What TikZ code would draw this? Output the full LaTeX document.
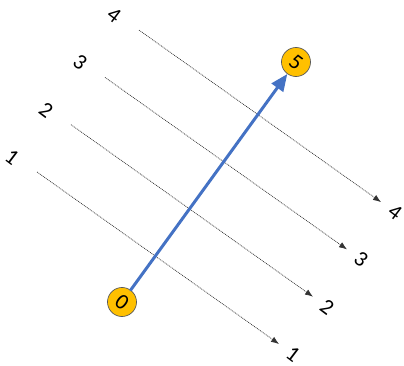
\documentclass[tikz,border=0pt]{standalone}
\usepackage{fontspec}
\setmainfont{Carlito}
\usetikzlibrary{arrows.meta}
\definecolor{gold}{HTML}{FFC000}
\definecolor{steel}{HTML}{4472C4}
\begin{document}
\begin{tikzpicture}[x=1pt, y=-1pt, line join=round, line cap=round, font=\fontsize{22}{22}\selectfont,
	ball/.style={circle, draw=black!65, fill=gold, line width=0.7pt, minimum size=29pt, inner sep=0pt, rotate=-37},
	tag/.style={rotate=-37, inner sep=1pt},
	ray/.style={dash pattern=on 0.9pt off 0.9pt, line cap=butt, line width=0.7pt, draw=black!80, -{Latex[length=8pt,width=6pt]}}]
	\useasboundingbox (0,0) rectangle (404,366);
	\foreach \i in {1,...,4} {
		\coordinate (s\i) at ({37+34*(\i-1)}, {172-47.3*(\i-1)});
		\path (s\i) ++(242,172) coordinate (e\i);
		\path (s\i) ++(-25,-15) node[tag] (l\i) {\i};
		\path (e\i) ++(14,10) node[tag] (r\i) {\i};
		\draw[ray] (s\i) -- (e\i);
	}
	\node[ball] (n0) at (122,302) {0};
	\node[ball] (n5) at (296,62) {5};
	\draw[steel, line width=3pt, -{Triangle[length=17pt,width=14pt]}] (n0) -- (n5);
\end{tikzpicture}
\end{document}
